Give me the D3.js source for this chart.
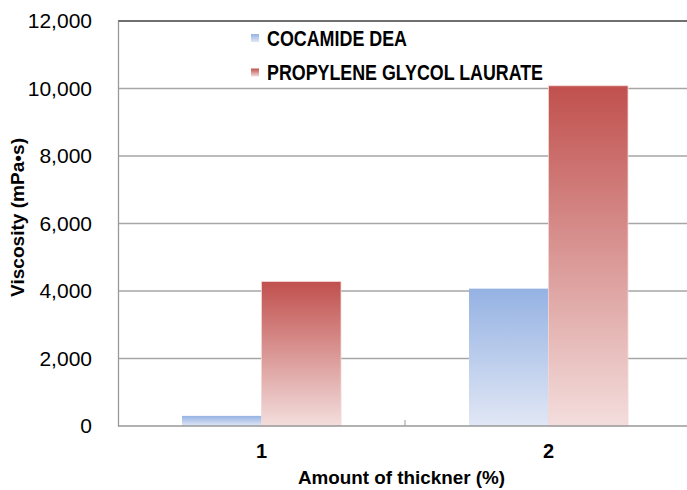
<!DOCTYPE html>
<html><head><meta charset="utf-8">
<script src="https://cdn.jsdelivr.net/npm/d3@7"></script>
<style>body{margin:0;background:#fff}svg{display:block}</style>
</head><body><div id="chart"></div>
<script>
const categories = ["1", "2"];
const seriesNames = ["COCAMIDE DEA", "PROPYLENE GLYCOL LAURATE"];
const cocamideDEA = [300, 4070];
const propyleneGlycolLaurate = [4280, 10080];
const yTicks = [0, 2000, 4000, 6000, 8000, 10000, 12000];

(function(){
const W = 687, H = 490;
const pL = 118, pR = 692, pT = 21, pB = 426;
const svg = d3.select("#chart").append("svg").attr("width", W).attr("height", H);
const defs = svg.append("defs");
function grad(id, c1, c2){
  const g = defs.append("linearGradient").attr("id", id).attr("x1",0).attr("y1",0).attr("x2",0).attr("y2",1);
  g.append("stop").attr("offset","0%").attr("stop-color",c1);
  g.append("stop").attr("offset","100%").attr("stop-color",c2);
}
grad("gBlue", "#95b2e3", "#e1e7f5");
grad("gRed", "#c0504d", "#f3dedd");
const fills = ["url(#gBlue)", "url(#gRed)"];
const font = "Liberation Sans, Arial, sans-serif";

const x = d3.scaleBand().domain(categories).range([pL, pR]);
const xs = d3.scaleBand().domain(seriesNames).range([0, x.bandwidth()]).paddingOuter(0.805).paddingInner(0);
const y = d3.scaleLinear().domain([0, 12000]).range([pB, pT]);

svg.append("g").selectAll("line").data(yTicks.filter(d => d > 0 && d < 12000)).join("line")
  .attr("x1", pL).attr("x2", W).attr("y1", d => y(d)).attr("y2", d => y(d))
  .attr("stroke", "#a6a6a6").attr("stroke-width", 1.3);
svg.append("line").attr("x1", pL).attr("x2", W).attr("y1", y(12000)).attr("y2", y(12000))
  .attr("stroke", "#404040").attr("stroke-width", 1.5);

const yAxis = svg.append("g").attr("transform", `translate(${pL},0)`)
  .call(d3.axisLeft(y).tickValues(yTicks).tickFormat(d3.format(",")).tickSize(0).tickPadding(26));
yAxis.select(".domain").attr("stroke", "#999").attr("stroke-width", 1.3);
yAxis.selectAll("text").attr("font-family", font).attr("font-size", 21).attr("fill", "#000");

const data = categories.map((c, i) => ({c, vals: [cocamideDEA[i], propyleneGlycolLaurate[i]]}));
const g = svg.append("g");
data.forEach(d => {
  d.vals.forEach((v, j) => {
    g.append("rect")
      .attr("x", x(d.c) + xs(seriesNames[j])).attr("width", xs.bandwidth())
      .attr("y", y(v)).attr("height", y(0) - y(v))
      .attr("fill", fills[j])
      .attr("stroke", j === 1 ? "#f2d6d5" : "none").attr("stroke-width", j === 1 ? 0.8 : 0);
  });
});

const xAxis = svg.append("g").attr("transform", `translate(0,${pB})`)
  .call(d3.axisBottom(x).tickSize(0).tickPadding(18));
xAxis.select(".domain").attr("stroke", "#999").attr("stroke-width", 1.5).attr("d", `M${pL},0H${W}`);
xAxis.selectAll("text").attr("font-family", font)
  .attr("font-weight", "bold").attr("font-size", 20).attr("fill", "#000");
svg.append("g").selectAll("line").data(categories.slice(1)).join("line")
  .attr("x1", d => x(d)).attr("x2", d => x(d)).attr("y1", pB).attr("y2", pB - 6)
  .attr("stroke", "#999").attr("stroke-width", 1);

svg.append("text").attr("x", 401.5).attr("y", 484).attr("text-anchor", "middle")
  .attr("font-family", font).attr("font-weight", "bold")
  .attr("font-size", 19).attr("fill", "#000")
  .attr("textLength", 207).attr("lengthAdjust", "spacingAndGlyphs").text("Amount of thickner (%)");
svg.append("text").attr("transform", "translate(24,217.5) rotate(-90)").attr("text-anchor", "middle")
  .attr("font-family", font).attr("font-weight", "bold")
  .attr("font-size", 19).attr("fill", "#000")
  .attr("textLength", 159).attr("lengthAdjust", "spacingAndGlyphs").text("Viscosity (mPa•s)");

const legendWidths = [140, 276];
const legend = svg.append("g");
seriesNames.forEach((s, i) => {
  const ly = 38 + i * 34.5;
  legend.append("rect").attr("x", 251).attr("y", ly - 4).attr("width", 8).attr("height", 8).attr("fill", fills[i]);
  legend.append("text").attr("x", 267).attr("y", ly).attr("dy", "0.36em")
    .attr("font-family", font).attr("font-weight", "bold")
    .attr("font-size", 22).attr("fill", "#000")
    .attr("textLength", legendWidths[i]).attr("lengthAdjust", "spacingAndGlyphs").text(s);
});
})();
</script></body></html>
